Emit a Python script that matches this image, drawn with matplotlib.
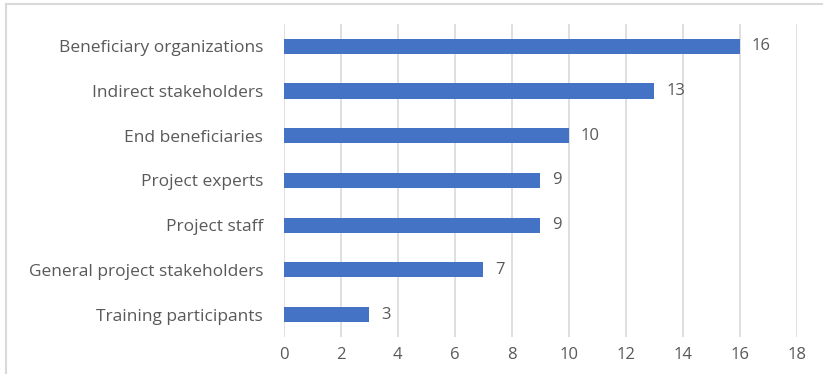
import matplotlib.pyplot as plt
from matplotlib.lines import Line2D

# Số lượng theo nhóm đối tượng
categories = ['Beneficiary organizations', 'Indirect stakeholders', 'End beneficiaries',
              'Project experts', 'Project staff', 'General project stakeholders',
              'Training participants']
values = [16, 13, 10, 9, 9, 7, 3]
xticks = [0, 2, 4, 6, 8, 10, 12, 14, 16, 18]

plt.rcParams['font.family'] = ['Open Sans', 'DejaVu Sans']
text_color = '#595959'

fig = plt.figure(figsize=(8.23, 3.74), dpi=100)
ax = fig.add_axes([0.345, 0.099, 0.623, 0.837])

y = list(range(len(categories)))[::-1]
ax.barh(y, values, height=0.34, color='#4472C4', zorder=3)

# Nhãn giá trị bên phải thanh
for yi, v in zip(y, values):
    ax.text(v + 0.42, yi, str(v), va='center', ha='left', fontsize=12, color=text_color)

ax.set_xlim(0, 18)
ax.set_ylim(-0.5, len(categories) - 0.5)
ax.set_xticks(xticks)
ax.set_yticks(y)
ax.set_yticklabels(categories, fontsize=12.5)
ax.tick_params(axis='both', length=0, labelcolor=text_color)
ax.tick_params(axis='x', labelsize=12, pad=7)
ax.tick_params(axis='y', pad=15)

# Lưới dọc
ax.grid(axis='x', color='#d9d9d9', linewidth=1.2, zorder=0)
for s in ax.spines.values():
    s.set_visible(False)

# Viền khung biểu đồ (trái và trên)
fig.add_artist(Line2D([6 / 823, 6 / 823], [0, 1 - 4 / 374], color='#d9d9d9', linewidth=1.5))
fig.add_artist(Line2D([6 / 823, 1], [1 - 4 / 374, 1 - 4 / 374], color='#d9d9d9', linewidth=1.5))

fig.savefig('out.png', dpi=100)
